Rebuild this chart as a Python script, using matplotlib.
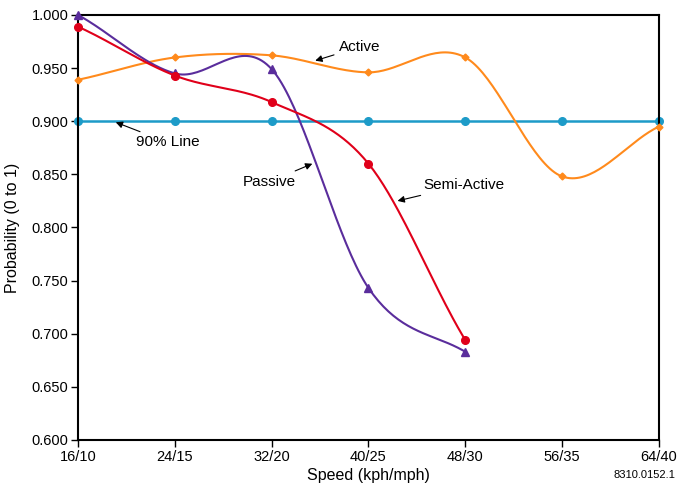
import numpy as np
import matplotlib
matplotlib.use("Agg")
import matplotlib.pyplot as plt

plt.rcParams['font.family'] = ['Liberation Sans', 'DejaVu Sans']

speeds = ["16/10", "24/15", "32/20", "40/25", "48/30", "56/35", "64/40"]
active = [0.939, 0.960, 0.962, 0.946, 0.960, 0.848, 0.895]
passive = [1.000, 0.945, 0.949, 0.743, 0.683]
semi_active = [0.989, 0.943, 0.918, 0.860, 0.694]
line_90 = [0.900] * 7


def smooth(y, n=40):
	# Catmull-Rom style smoothing between evenly spaced categories
	y = np.asarray(y, dtype=float)
	k = len(y)
	ext = np.concatenate([[y[0]], y, [y[-1]]])
	xs, ys = [], []
	for i in range(k - 1):
		p0, p1 = ext[i + 1], ext[i + 2]
		m0 = (ext[i + 2] - ext[i]) / 2
		m1 = (ext[i + 3] - ext[i + 1]) / 2
		# end segments follow the chord
		if i == 0:
			m0 = (p1 - p0) * 0.9
		if i == k - 2:
			m1 = (p1 - p0) * 0.9
		t = np.linspace(0, 1, n)
		h00 = 2*t**3 - 3*t**2 + 1
		h10 = t**3 - 2*t**2 + t
		h01 = -2*t**3 + 3*t**2
		h11 = t**3 - t**2
		xs.append(i + t)
		ys.append(h00*p0 + h10*m0 + h01*p1 + h11*m1)
	return np.concatenate(xs), np.concatenate(ys)


c_orange = '#ff8a1c'
c_red = '#e0001a'
c_purple = '#5a2d9c'
c_blue = '#1d9bc8'

fig = plt.figure(figsize=(6.77, 4.86), dpi=100)
ax = fig.add_axes([0.1152, 0.0947, 0.8582, 0.8745])

x7 = np.arange(len(speeds))
x5 = np.arange(len(passive))

ax.plot(x7, line_90, color=c_blue, lw=1.8, marker='o', ms=5.5, zorder=2, clip_on=False)

sx, sy = smooth(active)
ax.plot(sx, sy, color=c_orange, lw=1.5, zorder=3, clip_on=False)
ax.plot(x7, active, ls='none', marker='D', ms=3.5, color=c_orange, zorder=3, clip_on=False)

sx, sy = smooth(passive)
ax.plot(sx, sy, color=c_purple, lw=1.5, zorder=4, clip_on=False)
ax.plot(x5, passive, ls='none', marker='^', ms=6, color=c_purple, zorder=4, clip_on=False)

sx, sy = smooth(semi_active)
ax.plot(sx, sy, color=c_red, lw=1.5, zorder=5, clip_on=False)
ax.plot(x5, semi_active, ls='none', marker='o', ms=5.5, color=c_red, zorder=5, clip_on=False)

arrow = dict(arrowstyle='-|>', color='black', lw=0.8, mutation_scale=10, shrinkA=2, shrinkB=0)
ax.annotate("Active", xy=(2.45, 0.957), xytext=(2.70, 0.970), fontsize=11,
			ha='left', va='center', arrowprops=arrow)
ax.annotate("90% Line", xy=(0.39, 0.899), xytext=(0.60, 0.880), fontsize=11,
			ha='left', va='center', arrowprops=arrow)
ax.annotate("Passive", xy=(2.42, 0.860), xytext=(2.25, 0.843), fontsize=11,
			ha='right', va='center', arrowprops=arrow)
ax.annotate("Semi-Active", xy=(3.30, 0.825), xytext=(3.57, 0.840), fontsize=11,
			ha='left', va='center', arrowprops=arrow)

ax.set_xlim(0, 6)
ax.set_ylim(0.6, 1.0)
ax.set_xticks(x7)
ax.set_xticklabels(speeds)
ax.set_yticks(np.arange(0.6, 1.0001, 0.05))
ax.yaxis.set_major_formatter(plt.FuncFormatter(lambda v, _: f'{v:.3f}'))
ax.tick_params(direction='out', length=5, width=1, labelsize=10.5, pad=2)
for s in ax.spines.values():
	s.set_linewidth(1.5)

ax.set_xlabel("Speed (kph/mph)", fontsize=11.5, labelpad=3)
ax.set_ylabel("Probability (0 to 1)", fontsize=11.5, labelpad=8)

fig.text(0.997, 0.012, "8310.0152.1", fontsize=8, ha='right', va='bottom')

fig.savefig("out.png", dpi=100)
